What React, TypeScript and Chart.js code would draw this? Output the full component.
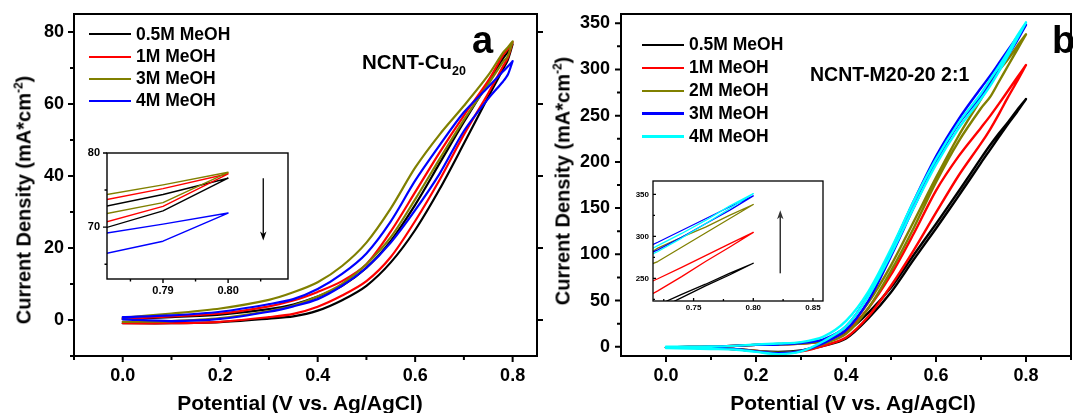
import React, { useEffect, useRef } from "react";
import { Chart, registerables } from "chart.js";

Chart.register(...registerables);

const FONT = '"Liberation Sans", Arial, Helvetica, sans-serif';
Chart.defaults.font.family = FONT;

// ---------------- Panel a : NCNT-Cu20 ----------------
const potentialA = [0, 0.1, 0.2, 0.3, 0.35, 0.4, 0.45, 0.5, 0.55, 0.6, 0.65, 0.7, 0.75, 0.78, 0.79, 0.8];
const a05Fwd = [-0.9, -0.9, -0.6, 0.4, 1.0, 2.6, 5.5, 9.5, 16, 25, 36.3, 49, 62, 69.6, 72.2, 76.6];
const a05Rev = [0.3, 0.8, 1.5, 3.0, 4.3, 6.5, 9.5, 14.5, 22, 32, 43.5, 55, 66, 72.6, 74.4, 76.6];
const a1Fwd = [-0.9, -0.9, -0.5, 0.8, 1.7, 3.7, 6.8, 10.8, 17.5, 27.5, 38.9, 51.5, 63, 70.4, 72.8, 77.2];
const a1Rev = [0.3, 1.0, 1.8, 3.8, 5.4, 7.8, 10.8, 15.5, 24.6, 35.5, 46.5, 56.8, 66.5, 73.5, 75.2, 77.2];
const a3Fwd = [-0.5, -0.3, 0.5, 2.5, 4.0, 6.5, 10.0, 15.5, 23, 33.5, 44.7, 55.6, 65.5, 71.6, 73.3, 77.4];
const a3Rev = [0.6, 1.8, 3.2, 5.6, 7.7, 10.5, 15, 21.5, 31, 42.3, 51.5, 59.5, 68, 74.2, 75.7, 77.4];
const a4Fwd = [0.2, -0.3, 0.3, 2.3, 3.8, 5.8, 9.5, 14.5, 21.5, 30.5, 40.6, 52.5, 61.5, 66.2, 68.1, 71.9];
const a4Rev = [0.8, 1.3, 2.3, 4.4, 5.8, 8.6, 12.8, 18.5, 27.4, 38.7, 48.5, 57.7, 64.7, 69.0, 70.4, 71.9];
const labelsA = ["0.5M MeOH", "1M MeOH", "3M MeOH", "4M MeOH"];
const colorsA = ["#000000", "#ff0000", "#808000", "#0000ff"];

const xTicksA = [0, 0.2, 0.4, 0.6, 0.8];
const xMinorA = [-0.1, 0.1, 0.3, 0.5, 0.7];
const yTicksA = [0, 20, 40, 60, 80];
const yMinorA = [-10, 10, 30, 50, 70];
const insetXTicksA = [0.79, 0.8];
const insetXMinorA = [0.785, 0.795, 0.805];
const insetYTicksA = [70, 80];
const insetYMinorA = [65, 75];

// ---------------- Panel b : NCNT-M20-20 2:1 ----------------
const potentialB = [0, 0.05, 0.1, 0.15, 0.2, 0.25, 0.3, 0.35, 0.4, 0.45, 0.5, 0.55, 0.6, 0.65, 0.7, 0.72, 0.74, 0.76, 0.78, 0.8];
const b05Fwd = [-1, -1.2, -1.5, -2.5, -4.5, -5.5, -4, 1, 9, 31, 59, 94, 128, 163, 199, 213, 227, 241, 254, 268];
const b05Rev = [-0.5, -0.3, 0, 1, 2, 3, 4, 7, 16, 37, 64, 99, 133, 168, 204, 218, 231, 243, 256, 268];
const b1Fwd = [-1, -1.2, -1.5, -2.5, -4.5, -7, -5, 1, 10, 33, 66, 104, 145, 185, 220, 235, 252, 270, 287, 304.8];
const b1Rev = [-0.5, -0.3, 0, 1, 2, 2.5, 3.5, 6, 17, 42, 78, 122, 169, 206, 237, 249.5, 263, 277, 291, 304.8];
const b2Fwd = [-1, -1.2, -1.5, -2.5, -4.5, -6.5, -4.5, 3, 14, 42, 82, 128, 178, 222, 258, 270, 287, 304, 321, 338];
const b2Rev = [-0.5, -0.3, 0, 1, 2, 2.5, 3.5, 6, 18, 48, 88, 135, 183, 228, 268, 286, 299, 311, 325, 338];
const b3Fwd = [-1, -1.2, -1.5, -2.5, -5, -7, -4.5, 4, 18, 50, 98, 150, 200, 241, 271, 284, 299, 315, 331, 348.3];
const b3Rev = [-0.5, -0.3, 0, 1, 2, 2.5, 4, 8, 22, 56, 104, 157, 206, 246, 280, 293, 307, 321, 335, 348.3];
const b4Fwd = [-1.5, -2, -2.5, -3, -5.5, -8, -5, 6, 22, 55, 100, 150, 197, 236, 268, 282, 298, 315, 333, 351];
const b4Rev = [0, 0, 0.2, 1, 2.5, 3.5, 5, 11, 28, 60, 106, 157, 203, 242, 274, 289, 303.5, 319, 336, 351];
const labelsB = ["0.5M MeOH", "1M MeOH", "2M MeOH", "3M MeOH", "4M MeOH"];
const colorsB = ["#000000", "#ff0000", "#808000", "#0000ff", "#00ffff"];

const xTicksB = [0, 0.2, 0.4, 0.6, 0.8];
const xMinorB = [0.1, 0.3, 0.5, 0.7, 0.9];
const yTicksB = [0, 50, 100, 150, 200, 250, 300, 350];
const yMinorB = [25, 75, 125, 175, 225, 275, 325];
const insetXTicksB = [0.75, 0.8, 0.85];
const insetXMinorB = [0.725, 0.775, 0.825];
const insetYTicksB = [250, 300, 350];
const insetYMinorB = [225, 275, 325];

type Series = { label: string; color: string; fwd: number[]; rev: number[] };

const seriesA: Series[] = [
  { label: labelsA[0], color: colorsA[0], fwd: a05Fwd, rev: a05Rev },
  { label: labelsA[1], color: colorsA[1], fwd: a1Fwd, rev: a1Rev },
  { label: labelsA[2], color: colorsA[2], fwd: a3Fwd, rev: a3Rev },
  { label: labelsA[3], color: colorsA[3], fwd: a4Fwd, rev: a4Rev },
];
const seriesB: Series[] = [
  { label: labelsB[0], color: colorsB[0], fwd: b05Fwd, rev: b05Rev },
  { label: labelsB[1], color: colorsB[1], fwd: b1Fwd, rev: b1Rev },
  { label: labelsB[2], color: colorsB[2], fwd: b2Fwd, rev: b2Rev },
  { label: labelsB[3], color: colorsB[3], fwd: b3Fwd, rev: b3Rev },
  { label: labelsB[4], color: colorsB[4], fwd: b4Fwd, rev: b4Rev },
];

function loop(xs: number[], fwd: number[], rev: number[]) {
  const out = xs.map((x, i) => ({ x, y: fwd[i] }));
  for (let i = xs.length - 1; i >= 0; i--) out.push({ x: xs[i], y: rev[i] });
  return out;
}

type Spec = {
  left: number; top: number; w: number; h: number;
  padding: { left: number; top: number; right: number; bottom: number };
  yWidth: number; xHeight: number;
  xs: number[]; series: Series[];
  xMin: number; xMax: number; yMin: number; yMax: number;
  xTicks: number[]; xMinor: number[]; yTicks: number[]; yMinor: number[];
  xDigits: number; yDigits: number;
  fontSize: number; padX: number; padY: number;
  lineWidth: number; tension: number; frameWidth: number; majorLen: number; minorLen: number;
  inward: boolean; rightTicks: boolean; fillWhite: boolean;
  arrow?: { x: number; from: number; to: number; color: string; width: number };
};

function makeFramePlugin(spec: Spec) {
  return {
    id: "frame",
    beforeDatasetsDraw(chart: any) {
      if (!spec.fillWhite) return;
      const { ctx, chartArea: ca } = chart;
      ctx.save();
      ctx.fillStyle = "#ffffff";
      ctx.fillRect(ca.left, ca.top, ca.right - ca.left, ca.bottom - ca.top);
      ctx.restore();
    },
    afterDraw(chart: any) {
      const { ctx, chartArea: ca, scales } = chart;
      const xs = scales.x;
      const ys = scales.y;
      ctx.save();
      ctx.strokeStyle = "#000";
      ctx.lineWidth = spec.frameWidth;
      ctx.strokeRect(ca.left, ca.top, ca.right - ca.left, ca.bottom - ca.top);
      const d = spec.inward ? -1 : 1;
      ctx.beginPath();
      const tx = (v: number, len: number) => {
        const p = xs.getPixelForValue(v);
        ctx.moveTo(p, ca.bottom);
        ctx.lineTo(p, ca.bottom + d * len);
      };
      const ty = (v: number, len: number) => {
        const p = ys.getPixelForValue(v);
        ctx.moveTo(ca.left, p);
        ctx.lineTo(ca.left - d * len, p);
      };
      spec.xTicks.forEach((v) => tx(v, spec.majorLen));
      spec.xMinor.forEach((v) => tx(v, spec.minorLen));
      spec.yTicks.forEach((v) => ty(v, spec.majorLen));
      spec.yMinor.forEach((v) => ty(v, spec.minorLen));
      if (spec.rightTicks) {
        spec.yTicks.forEach((v) => {
          const p = ys.getPixelForValue(v);
          ctx.moveTo(ca.right, p);
          ctx.lineTo(ca.right + spec.majorLen, p);
        });
      }
      ctx.stroke();
      if (spec.arrow) {
        const a = spec.arrow;
        const px = xs.getPixelForValue(a.x);
        const p0 = ys.getPixelForValue(a.from);
        const p1 = ys.getPixelForValue(a.to);
        const dir = Math.sign(p1 - p0);
        ctx.strokeStyle = a.color;
        ctx.fillStyle = a.color;
        ctx.lineWidth = a.width;
        ctx.beginPath();
        ctx.moveTo(px, p0);
        ctx.lineTo(px, p1 - dir * 6);
        ctx.stroke();
        ctx.beginPath();
        ctx.moveTo(px, p1);
        ctx.lineTo(px - 3.2, p1 - dir * 9);
        ctx.lineTo(px, p1 - dir * 6.5);
        ctx.lineTo(px + 3.2, p1 - dir * 9);
        ctx.closePath();
        ctx.fill();
      }
      ctx.restore();
    },
  };
}

function buildConfig(spec: Spec): any {
  const n = spec.series.length;
  const tickFont = { family: FONT, size: spec.fontSize, weight: "bold" as const };
  return {
    type: "scatter",
    data: {
      datasets: spec.series.map((s, i) => ({
        label: s.label,
        data: loop(spec.xs, s.fwd, s.rev),
        borderColor: s.color,
        backgroundColor: s.color,
        borderWidth: spec.lineWidth,
        showLine: true,
        pointRadius: 0,
        pointHoverRadius: 0,
        tension: spec.tension,
        fill: false,
        borderJoinStyle: "round",
        borderCapStyle: "round",
        order: n - i,
      })),
    },
    options: {
      responsive: false,
      maintainAspectRatio: false,
      animation: false,
      events: [],
      layout: { padding: spec.padding },
      plugins: { legend: { display: false }, tooltip: { enabled: false } },
      scales: {
        x: {
          type: "linear",
          min: spec.xMin,
          max: spec.xMax,
          afterBuildTicks: (s: any) => {
            s.ticks = spec.xTicks.map((v) => ({ value: v }));
          },
          afterFit: (s: any) => {
            s.height = spec.xHeight;
            s.paddingLeft = 0; s.paddingRight = 0; s.paddingTop = 0; s.paddingBottom = 0;
          },
          grid: { display: false, drawTicks: false },
          border: { display: false },
          ticks: {
            font: tickFont,
            color: "#000",
            padding: spec.padX,
            autoSkip: false,
            maxRotation: 0,
            minRotation: 0,
            callback: (v: any) => Number(v).toFixed(spec.xDigits),
          },
        },
        y: {
          type: "linear",
          min: spec.yMin,
          max: spec.yMax,
          afterBuildTicks: (s: any) => {
            s.ticks = spec.yTicks.map((v) => ({ value: v }));
          },
          afterFit: (s: any) => {
            s.width = spec.yWidth;
            s.paddingLeft = 0; s.paddingRight = 0; s.paddingTop = 0; s.paddingBottom = 0;
          },
          grid: { display: false, drawTicks: false },
          border: { display: false },
          ticks: {
            font: tickFont,
            color: "#000",
            padding: spec.padY,
            autoSkip: false,
            callback: (v: any) => Number(v).toFixed(spec.yDigits),
          },
        },
      },
    },
    plugins: [makeFramePlugin(spec)],
  };
}

function ChartCanvas({ spec }: { spec: Spec }) {
  const ref = useRef<HTMLCanvasElement | null>(null);
  useEffect(() => {
    if (!ref.current) return;
    const chart = new Chart(ref.current, buildConfig(spec));
    return () => chart.destroy();
  }, []);
  return (
    <canvas
      ref={ref}
      width={spec.w}
      height={spec.h}
      style={{ position: "absolute", left: spec.left, top: spec.top, width: spec.w, height: spec.h }}
    />
  );
}

const mainA: Spec = {
  left: 0, top: 0, w: 545, h: 413,
  padding: { left: 0, top: 14, right: 8, bottom: 0 },
  yWidth: 74, xHeight: 57,
  xs: potentialA, series: seriesA,
  xMin: -0.1, xMax: 0.85, yMin: -10, yMax: 85,
  xTicks: xTicksA, xMinor: xMinorA, yTicks: yTicksA, yMinor: yMinorA,
  xDigits: 1, yDigits: 0,
  fontSize: 18, padX: 9, padY: 10,
  lineWidth: 2.2, tension: 0.3, frameWidth: 2, majorLen: 6, minorLen: 4,
  inward: false, rightTicks: true, fillWhite: false,
};

const insetA: Spec = {
  left: 77, top: 145, w: 219, h: 159,
  padding: { left: 0, top: 8, right: 8, bottom: 0 },
  yWidth: 30, xHeight: 25,
  xs: potentialA, series: seriesA,
  xMin: 0.7814, xMax: 0.8092, yMin: 63, yMax: 80,
  xTicks: insetXTicksA, xMinor: insetXMinorA, yTicks: insetYTicksA, yMinor: insetYMinorA,
  xDigits: 2, yDigits: 0,
  fontSize: 11, padX: 5, padY: 7,
  lineWidth: 1.4, tension: 0, frameWidth: 1.4, majorLen: 4, minorLen: 2.5,
  inward: false, rightTicks: false, fillWhite: true,
  arrow: { x: 0.8054, from: 76.6, to: 68.2, color: "#000", width: 1.3 },
};

const mainB: Spec = {
  left: 545, top: 0, w: 528, h: 413,
  padding: { left: 0, top: 14, right: 2, bottom: 0 },
  yWidth: 76, xHeight: 57,
  xs: potentialB, series: seriesB,
  xMin: -0.1, xMax: 0.9, yMin: -10, yMax: 360,
  xTicks: xTicksB, xMinor: xMinorB, yTicks: yTicksB, yMinor: yMinorB,
  xDigits: 1, yDigits: 0,
  fontSize: 18, padX: 9, padY: 11,
  lineWidth: 2.4, tension: 0.3, frameWidth: 2, majorLen: 6, minorLen: 4,
  inward: false, rightTicks: false, fillWhite: false,
};

const insetB: Spec = {
  left: 623, top: 173, w: 208, h: 148,
  padding: { left: 0, top: 8, right: 8, bottom: 0 },
  yWidth: 30, xHeight: 20,
  xs: potentialB, series: seriesB,
  xMin: 0.716, xMax: 0.8584, yMin: 223, yMax: 366,
  xTicks: insetXTicksB, xMinor: insetXMinorB, yTicks: insetYTicksB, yMinor: insetYMinorB,
  xDigits: 2, yDigits: 0,
  fontSize: 8, padX: 2, padY: 4,
  lineWidth: 1.3, tension: 0, frameWidth: 1.3, majorLen: 3, minorLen: 2,
  inward: true, rightTicks: false, fillWhite: true,
  arrow: { x: 0.8226, from: 256, to: 331, color: "#333", width: 1.5 },
};

const bold = { fontWeight: "bold" as const, whiteSpace: "nowrap" as const, position: "absolute" as const, color: "#000" };

function Text({ left, cy, size, children }: { left: number; cy: number; size: number; children: any }) {
  return (
    <div style={{ ...bold, left, top: cy - size / 2, fontSize: size, lineHeight: `${size}px` }}>{children}</div>
  );
}

function Centered({ cx, cy, size, rotate, children }: { cx: number; cy: number; size: number; rotate?: boolean; children: any }) {
  return (
    <div
      style={{
        ...bold,
        left: cx,
        top: cy,
        fontSize: size,
        lineHeight: `${size}px`,
        transform: `translate(-50%, -50%)${rotate ? " rotate(-90deg)" : ""}`,
      }}
    >
      {children}
    </div>
  );
}

function Legend({ labels, colors, lineLeft, lineWidth, textLeft, rows, size, thick }: any) {
  return (
    <>
      {labels.map((l: string, i: number) => (
        <React.Fragment key={l}>
          <div style={{ position: "absolute", left: lineLeft, top: rows[i] - thick / 2, width: lineWidth, height: thick, background: colors[i] }} />
          <Text left={textLeft} cy={rows[i]} size={size}>{l}</Text>
        </React.Fragment>
      ))}
    </>
  );
}

const yTitle = (
  <>
    Current Density (mA*cm<span style={{ fontSize: 12, position: "relative", top: -8 }}>-2</span>)
  </>
);

export default function App() {
  return (
    <div style={{ position: "absolute", left: 0, top: 0, width: 1073, height: 413, background: "#fff", overflow: "hidden", fontFamily: FONT }}>
      <ChartCanvas spec={mainA} />
      <ChartCanvas spec={mainB} />
      <ChartCanvas spec={insetA} />
      <ChartCanvas spec={insetB} />

      {/* Panel a texts */}
      <Centered cx={25} cy={200} size={20} rotate>{yTitle}</Centered>
      <Centered cx={300} cy={402} size={21}>Potential (V vs. Ag/AgCl)</Centered>
      <Legend labels={labelsA} colors={colorsA} lineLeft={89} lineWidth={42} textLeft={136} rows={[34.3, 56.7, 79, 101]} size={17.5} thick={2} />
      <div style={{ ...bold, left: 362, top: 69 - 0.8465 * 20.5, fontSize: 20.5, lineHeight: "20.5px" }}>
        NCNT-Cu<span style={{ fontSize: 12.5, position: "relative", top: 6 }}>20</span>
      </div>
      <div style={{ ...bold, left: 472, top: 53 - 0.8465 * 38, fontSize: 38, lineHeight: "38px" }}>a</div>

      {/* Panel b texts */}
      <Centered cx={564} cy={181} size={20} rotate>{yTitle}</Centered>
      <Centered cx={853} cy={402} size={21}>Potential (V vs. Ag/AgCl)</Centered>
      <Legend labels={labelsB} colors={colorsB} lineLeft={642} lineWidth={42} textLeft={689} rows={[45, 68, 91, 113.5, 136.5]} size={17.5} thick={2.5} />
      <div style={{ ...bold, left: 810, top: 81.7 - 0.8465 * 19.5, fontSize: 19.5, lineHeight: "19.5px" }}>NCNT-M20-20 2:1</div>
      <div style={{ ...bold, left: 1052, top: 53 - 0.8465 * 38, fontSize: 38, lineHeight: "38px" }}>b</div>
    </div>
  );
}
